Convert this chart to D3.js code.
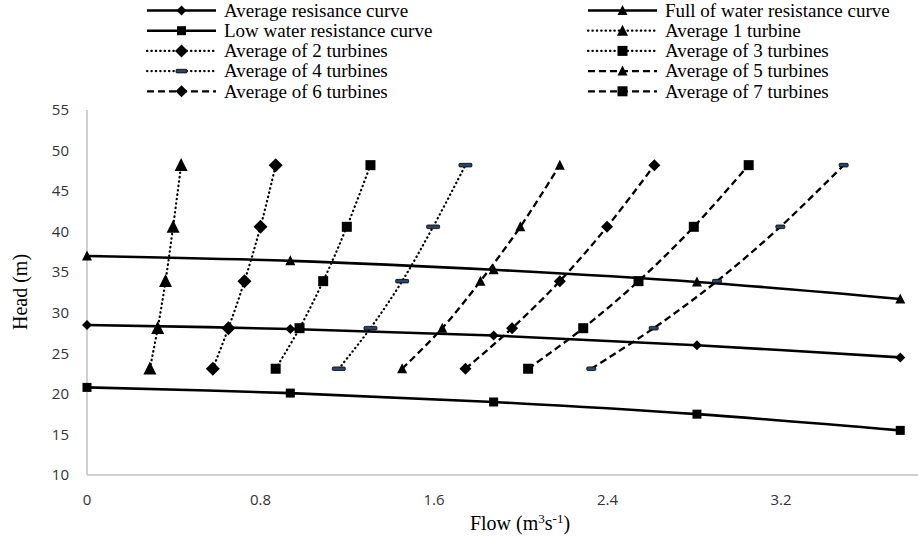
<!DOCTYPE html>
<html>
<head>
<meta charset="utf-8">
<script src="https://cdn.jsdelivr.net/npm/d3@7"></script>
<style>
  body { margin: 0; background: #fff; }
  .tick-label { font-family: "Liberation Sans Narrow", "Open Sans", sans-serif; font-size: 15px; fill: #333; }
  .title { font-family: "Liberation Serif", serif; font-size: 20px; fill: #000; }
  .legend text { font-family: "Liberation Serif", serif; font-size: 19px; fill: #000; }
</style>
</head>
<body>
<script>
// resistance curves
var flowResist = [0, 0.9375, 1.875, 2.8125, 3.75];
var headAverage = [28.5, 28.0, 27.2, 26.0, 24.5];
var headFull = [37.0, 36.4, 35.3, 33.8, 31.7];
var headLow = [20.8, 20.1, 19.0, 17.5, 15.5];

// turbine curves, same heads for all
var turbineHeads = [23.1, 28.1, 33.9, 40.6, 48.2];
var flow1 = [0.290, 0.326, 0.362, 0.397, 0.434];
var flow2 = [0.580, 0.652, 0.726, 0.800, 0.870];
var flow3 = [0.870, 0.980, 1.089, 1.198, 1.307];
var flow4 = [1.161, 1.307, 1.453, 1.596, 1.745];
var flow5 = [1.453, 1.638, 1.814, 1.998, 2.180];
var flow6 = [1.745, 1.960, 2.180, 2.398, 2.616];
var flow7 = [2.034, 2.288, 2.543, 2.798, 3.051];
var flow8 = [2.325, 2.613, 2.905, 3.197, 3.489];

var xTicks = [0, 0.8, 1.6, 2.4, 3.2];
var yTicks = [10, 15, 20, 25, 30, 35, 40, 45, 50, 55];

var width = 918, height = 536;
var plotLeft = 87, plotTop = 110, plotBottom = 475;

var svg = d3.select("body").append("svg")
    .attr("width", width)
    .attr("height", height);

var x = d3.scaleLinear().domain([0, 4]).range([plotLeft, 954.5]);
var y = d3.scaleLinear().domain([10, 55]).range([plotBottom, plotTop]);

// round caps make each tiny dash a dot
var DOT = "0.4 4", DASH = "7 4";

var series = [
  {name: "Average resisance curve", xs: flowResist, ys: headAverage, dash: null, marker: "diamond", size: 8, legend: true},
  {name: "Full of water resistance curve", xs: flowResist, ys: headFull, dash: null, marker: "triangle", size: 10, legend: true},
  {name: "Low water resistance curve", xs: flowResist, ys: headLow, dash: null, marker: "square", size: 9, legend: true},
  {name: "Average 1 turbine", xs: flow1, ys: turbineHeads, dash: DOT, marker: "triangle", size: 13, legend: true},
  {name: "Average of 2 turbines", xs: flow2, ys: turbineHeads, dash: DOT, marker: "diamond", size: 12, legend: true},
  {name: "Average of 3 turbines", xs: flow3, ys: turbineHeads, dash: DOT, marker: "square", size: 10, legend: true},
  {name: "Average of 4 turbines", xs: flow4, ys: turbineHeads, dash: DOT, marker: "bar", size: 13, legend: true},
  {name: "Average of 5 turbines", xs: flow5, ys: turbineHeads, dash: DASH, marker: "triangle", size: 10, legend: true},
  {name: "Average of 6 turbines", xs: flow6, ys: turbineHeads, dash: DASH, marker: "diamond", size: 10, legend: true},
  {name: "Average of 7 turbines", xs: flow7, ys: turbineHeads, dash: DASH, marker: "square", size: 10, legend: true},
  {name: "Average of 8 turbines", xs: flow8, ys: turbineHeads, dash: DASH, marker: "bar", size: 9, legend: false}
];

function strokeStyle(sel, s) {
  sel.attr("stroke", "#000")
    .attr("stroke-width", s.dash === DOT ? 2.2 : (s.dash ? 2.3 : 2.6))
    .attr("stroke-dasharray", s.dash)
    .attr("stroke-linecap", s.dash === DOT ? "round" : "butt");
}

// axes
svg.append("line")
    .attr("x1", x(0)).attr("x2", width)
    .attr("y1", y(10)).attr("y2", y(10))
    .attr("stroke", "#c0c0c0").attr("stroke-width", 1.5);
svg.append("line")
    .attr("x1", x(0)).attr("x2", x(0))
    .attr("y1", y(10)).attr("y2", y(55))
    .attr("stroke", "#c0c0c0").attr("stroke-width", 1.5);

svg.selectAll(".ytick")
    .data(yTicks)
    .enter().append("text")
    .attr("class", "tick-label")
    .attr("x", 69)
    .attr("y", function(d) { return y(d); })
    .attr("dy", "0.35em")
    .attr("text-anchor", "end")
    .text(function(d) { return d; });

svg.selectAll(".xtick")
    .data(xTicks)
    .enter().append("text")
    .attr("class", "tick-label")
    .attr("x", function(d) { return x(d); })
    .attr("y", 500)
    .attr("dy", "0.35em")
    .attr("text-anchor", "middle")
    .text(function(d) { return d; });

svg.append("text")
    .attr("class", "title")
    .attr("transform", "translate(27,292) rotate(-90)")
    .attr("text-anchor", "middle")
    .text("Head (m)");

var xt = svg.append("text")
    .attr("class", "title")
    .attr("x", 520).attr("y", 530)
    .attr("text-anchor", "middle");
xt.append("tspan").text("Flow (m");
xt.append("tspan").attr("font-size", "13px").attr("dy", "-7").text("3");
xt.append("tspan").attr("dy", "7").text("s");
xt.append("tspan").attr("font-size", "13px").attr("dy", "-7").text("-1");
xt.append("tspan").attr("dy", "7").text(")");

// markers
function drawMarker(g, type, cx, cy, s) {
  if (type === "square") {
    g.append("rect").attr("x", cx - s / 2).attr("y", cy - s / 2)
      .attr("width", s).attr("height", s).attr("fill", "#000");
  } else if (type === "diamond") {
    var h = s / 2 + 1;
    g.append("path")
      .attr("d", "M" + cx + "," + (cy - h) + "L" + (cx + h) + "," + cy + "L" + cx + "," + (cy + h) + "L" + (cx - h) + "," + cy + "Z")
      .attr("fill", "#000");
  } else if (type === "triangle") {
    var hw = s / 2;
    g.append("path")
      .attr("d", "M" + cx + "," + (cy - s * 0.55) + "L" + (cx + hw) + "," + (cy + s * 0.45) + "L" + (cx - hw) + "," + (cy + s * 0.45) + "Z")
      .attr("fill", "#000");
  } else if (type === "bar") {
    g.append("rect").attr("x", cx - s / 2).attr("y", cy - 1.8)
      .attr("width", s).attr("height", 3.6).attr("rx", 1)
      .attr("fill", "#2e4566").attr("stroke", "#000").attr("stroke-width", 0.8);
  }
}

var line = d3.line()
    .x(function(d) { return x(d[0]); })
    .y(function(d) { return y(d[1]); })
    .curve(d3.curveCatmullRom.alpha(0.5));

var plot = svg.append("g");

series.forEach(function(s) {
  var pts = s.xs.map(function(v, i) { return [v, s.ys[i]]; });
  plot.append("path")
    .datum(pts)
    .attr("d", line)
    .attr("fill", "none")
    .call(strokeStyle, s);
});

series.forEach(function(s) {
  var g = plot.append("g");
  s.xs.forEach(function(v, i) {
    drawMarker(g, s.marker, x(v), y(s.ys[i]), s.size);
  });
});

// legend, two columns
var legend = svg.append("g").attr("class", "legend");
var legendSeries = series.filter(function(s) { return s.legend; });
legendSeries.forEach(function(s, i) {
  var col = i % 2, row = Math.floor(i / 2);
  var lx = col === 0 ? 147 : 588;
  var ly = 10.5 + row * 20.2;
  var g = legend.append("g");
  g.append("line")
    .attr("x1", lx).attr("x2", lx + 69)
    .attr("y1", ly).attr("y2", ly)
    .call(strokeStyle, s);
  drawMarker(g, s.marker, lx + 34.5, ly, Math.min(s.size, 11));
  g.append("text")
    .attr("x", lx + 77)
    .attr("y", ly)
    .attr("dy", "0.33em")
    .text(s.name);
});
</script>
</body>
</html>
